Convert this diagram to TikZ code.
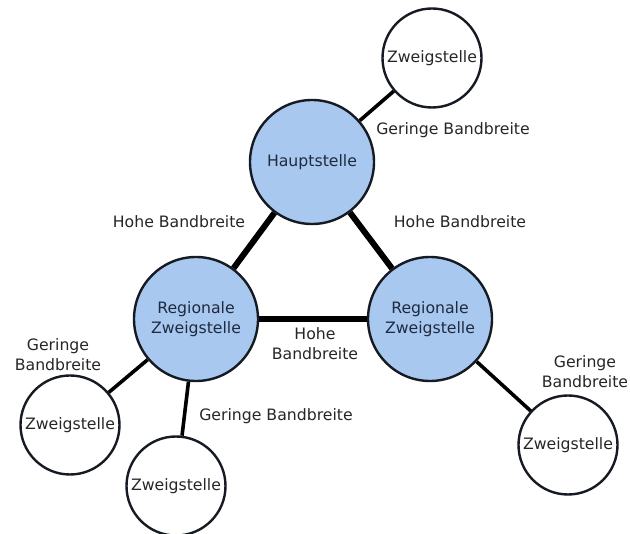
\documentclass[tikz,border=0pt]{standalone}
\usepackage{fontspec}
\setmainfont{DejaVu Sans}
\definecolor{hubfill}{RGB}{169,200,240}
\definecolor{ringline}{RGB}{22,26,34}
\definecolor{hubtext}{RGB}{30,42,64}
\definecolor{labeltext}{RGB}{38,38,38}
\tikzset{
  site/.style={circle, draw=ringline, line width=2.4pt, inner sep=0pt, font=\fontsize{15.7}{20}\selectfont, align=center},
  hub/.style={site, fill=hubfill, minimum size=124pt, text=hubtext},
  branch/.style={site, fill=white, minimum size=99pt, text=labeltext},
  highbw/.style={draw=black, line width=6pt},
  lowbw/.style={draw=black, line width=3.6pt},
  bwlabel/.style={font=\fontsize{15.7}{20}\selectfont, text=labeltext, align=center, inner sep=0pt}
}
\begin{document}
\begin{tikzpicture}[x=1pt, y=-1pt]
  \useasboundingbox[fill=white] (0,0) rectangle (630,534);

  % core sites
  \node[hub] (haupt) at (312,162) {Hauptstelle};
  \node[hub] (regL) at (196,319) {Regionale\\Zweigstelle};
  \node[hub] (regR) at (430,319) {Regionale\\Zweigstelle};

  % outer branch offices
  \node[branch] (zTop) at (432,58) {Zweigstelle};
  \node[branch] (zLeft) at (70,425) {Zweigstelle};
  \node[branch] (zBottom) at (176,486) {Zweigstelle};
  \node[branch] (zRight) at (568,445) {Zweigstelle};

  % high-bandwidth backbone
  \draw[highbw] (haupt) -- (regL);
  \draw[highbw] (haupt) -- (regR);
  \draw[highbw] (regL) -- (regR);

  % low-bandwidth spurs
  \draw[lowbw] (haupt) -- (zTop);
  \draw[lowbw] (regL) -- (zLeft);
  \draw[lowbw] (regL) -- (zBottom);
  \draw[lowbw] (regR) -- (zRight);

  % link labels
  \node[bwlabel] (lTop) at (453,130) {Geringe Bandbreite};
  \node[bwlabel] (lHL) at (179,222) {Hohe Bandbreite};
  \node[bwlabel] (lHR) at (460,222) {Hohe Bandbreite};
  \node[bwlabel] (lMid) at (315,344) {Hohe\\Bandbreite};
  \node[bwlabel] (lLeft) at (58,355) {Geringe\\Bandbreite};
  \node[bwlabel] (lBottom) at (276,416) {Geringe Bandbreite};
  \node[bwlabel] (lRight) at (585,372) {Geringe\\Bandbreite};
\end{tikzpicture}
\end{document}
